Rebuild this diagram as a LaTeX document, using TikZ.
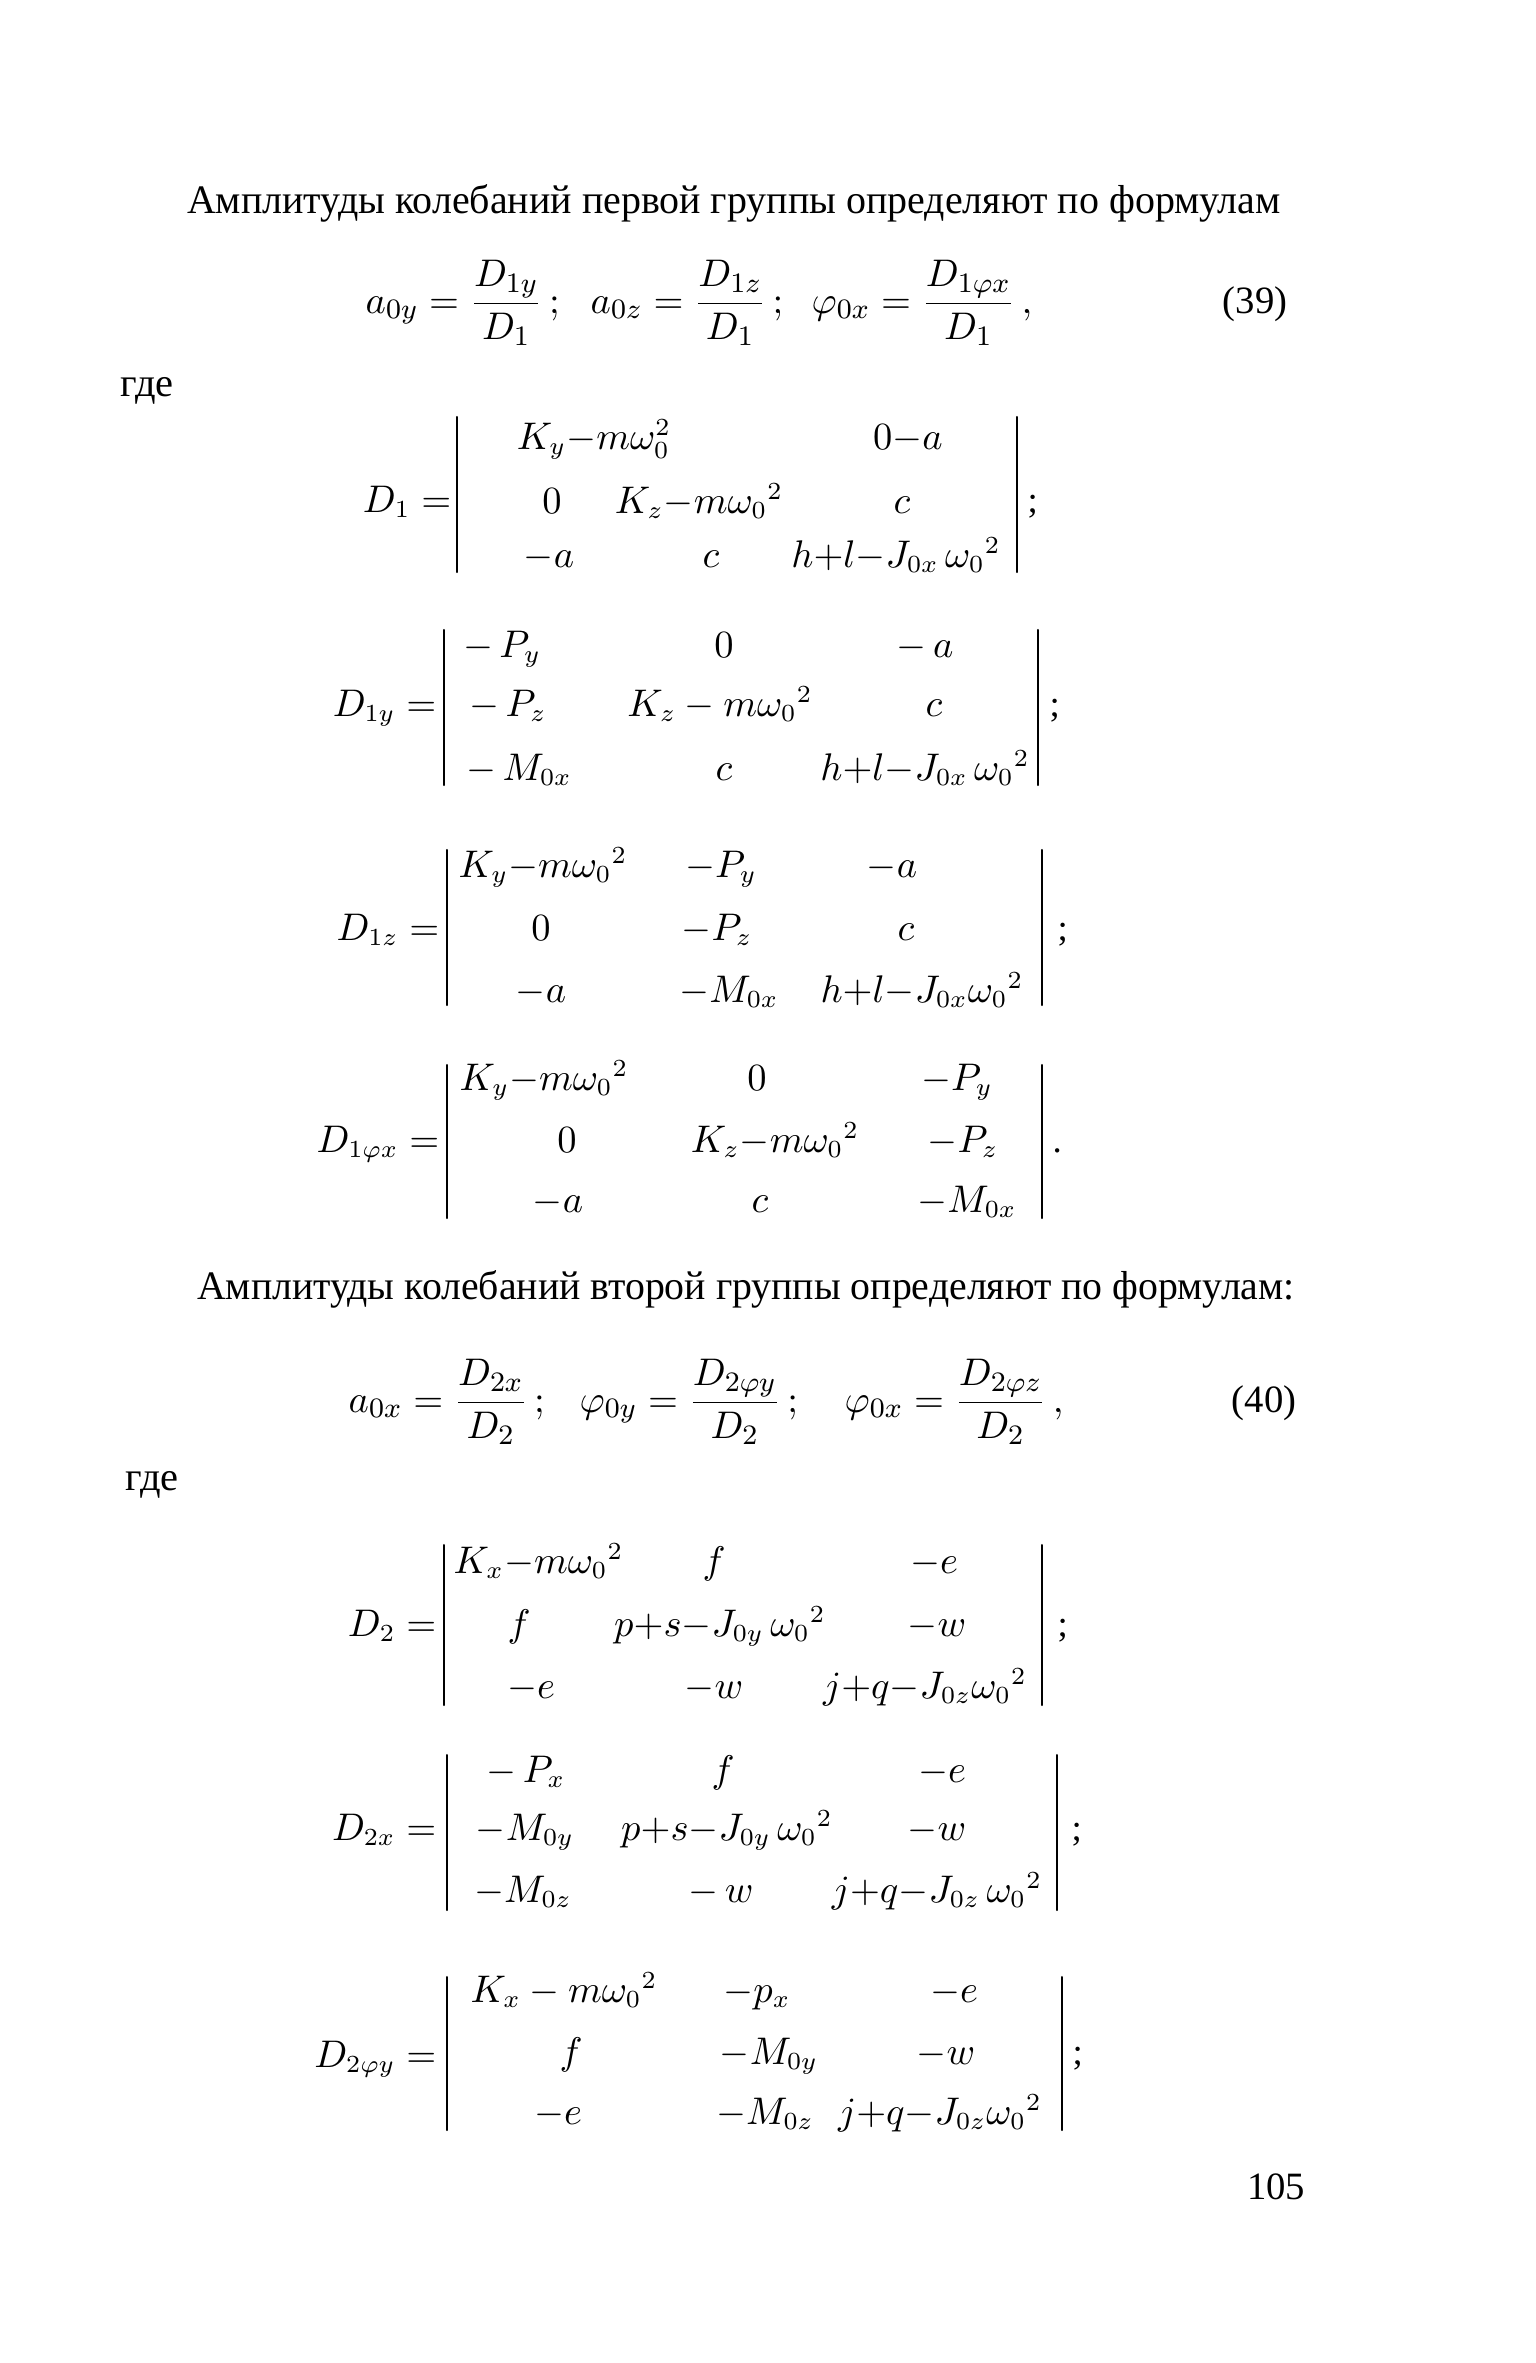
\documentclass[tikz,border=0pt]{standalone}
\usepackage{fontspec}
\setmainfont{Liberation Serif}
\tikzset{
 ent/.style={anchor=base, inner sep=0pt, font=\fontsize{10.5}{12.6}\selectfont},
 entw/.style={anchor=base west, inner sep=0pt, font=\fontsize{10.5}{12.6}\selectfont},
 lbl/.style={anchor=base east, inner sep=0pt, font=\fontsize{10.5}{12.6}\selectfont},
 punct/.style={anchor=base west, inner sep=0pt, font=\fontsize{10.5}{12.6}\selectfont},
 detbar/.style={line width=0.6pt, line cap=round},
 ttl/.style={anchor=base, inner sep=0pt, font=\fontsize{11.5}{14}\selectfont},
 frm/.style={anchor=base west, inner sep=0pt, font=\fontsize{11}{13}\selectfont},
 eqno/.style={anchor=base, inner sep=0pt, font=\fontsize{11}{13}\selectfont},
}
\newcommand\detbars[4]{\draw[detbar] (#1,#3) -- (#1,#4); \draw[detbar] (#2,#3) -- (#2,#4);}
\begin{document}
\begin{tikzpicture}[x=0.01cm,y=-0.01cm]
\fill[white] (0,0) rectangle (1535,2363);
\useasboundingbox (0,0) rectangle (1535,2363);

% ---------- first heading ----------
\node[ttl] (t1) at (734,213) {\resizebox{10.93cm}{\height}{Амплитуды колебаний первой группы определяют по формулам}};

% ---------- formula (39) ----------
\node[frm] (e1) at (365,313) {$a_{0y}=\displaystyle\frac{D_{1y}}{D_1}\,;$};
\node[frm] (e2) at (590,313) {$a_{0z}=\displaystyle\frac{D_{1z}}{D_1}\,;$};
\node[frm] (e3) at (811,313) {$\varphi_{0x}=\displaystyle\frac{D_{1\varphi x}}{D_1}\,,$};
\node[eqno] (n39) at (1255,313) {(39)};

\node[anchor=base west, inner sep=0pt, font=\fontsize{11.5}{14}\selectfont] (g1) at (120,396) {где};

% ---------- D1 ----------
\node[lbl] (d1) at (452,512) {$D_1=$};
\detbars{457}{1017}{417}{572}
\node[ent] (p11) at (594,449) {$K_y{-}m\omega_0^2$};
\node[ent] (p12) at (908,449) {$0{-}a$};
\node[ent] (p21) at (552,513) {$0$};
\node[ent] (p22) at (699,513) {$K_z{-}m{\omega_0}^2$};
\node[ent] (p23) at (902,513) {$c$};
\node[ent] (p31) at (549,567) {${-}a$};
\node[ent] (p32) at (711,567) {$c$};
\node[ent] (p33) at (896,567) {$h{+}l{-}J_{0x}\,{\omega_0}^2$};
\node[punct] (s1) at (1027,512) {;};

% ---------- D1y ----------
\node[lbl] (d1y) at (437,716) {$D_{1y}=$};
\detbars{444}{1038}{630}{785}
\node[ent] (q11) at (502,657) {${-}\,P_y$};
\node[ent] (q12) at (724,657) {$0$};
\node[ent] (q13) at (925,657) {${-}\,a$};
\node[ent] (q21) at (508,716) {${-}\,P_z$};
\node[ent] (q22) at (720,716) {$K_z-m{\omega_0}^2$};
\node[ent] (q23) at (934,716) {$c$};
\node[ent] (q31) at (519,780) {${-}\,M_{0x}$};
\node[ent] (q32) at (724,780) {$c$};
\node[ent] (q33) at (925,780) {$h{+}l{-}J_{0x}\,{\omega_0}^2$};
\node[punct] (s2) at (1049,716) {;};

% ---------- D1z ----------
\node[lbl] (d1z) at (440,940) {$D_{1z}=$};
\detbars{447}{1042}{850}{1005}
\node[ent] (r11) at (543,877) {$K_y{-}m{\omega_0}^2$};
\node[ent] (r12) at (721,877) {${-}P_y$};
\node[ent] (r13) at (892,877) {${-}a$};
\node[ent] (r21) at (541,940) {$0$};
\node[ent] (r22) at (717,940) {${-}P_z$};
\node[ent] (r23) at (906,940) {$c$};
\node[ent] (r31) at (541,1002) {${-}a$};
\node[ent] (r32) at (729,1002) {${-}M_{0x}$};
\node[ent] (r33) at (922,1002) {$h{+}l{-}J_{0x}{\omega_0}^2$};
\node[punct] (s3) at (1057,940) {;};

% ---------- D1phi x ----------
\node[lbl] (d1f) at (440,1152) {$D_{1\varphi x}=$};
\detbars{447}{1042}{1065}{1218}
\node[ent] (u11) at (544,1090) {$K_y{-}m{\omega_0}^2$};
\node[ent] (u12) at (757,1090) {$0$};
\node[ent] (u13) at (957,1090) {${-}P_y$};
\node[ent] (u21) at (567,1152) {$0$};
\node[ent] (u22) at (775,1152) {$K_z{-}m{\omega_0}^2$};
\node[ent] (u23) at (963,1152) {${-}P_z$};
\node[ent] (u31) at (558,1212) {${-}a$};
\node[ent] (u32) at (760,1212) {$c$};
\node[ent] (u33) at (967,1212) {${-}M_{0x}$};
\node[punct] (s4) at (1052,1152) {.};

% ---------- second heading ----------
\node[ttl] (t2) at (746,1299) {\resizebox{10.97cm}{\height}{Амплитуды колебаний второй группы определяют по формулам:}};

% ---------- formula (40) ----------
\node[frm] (e4) at (348,1412) {$a_{0x}=\displaystyle\frac{D_{2x}}{D_2}\,;$};
\node[frm] (e5) at (579,1412) {$\varphi_{0y}=\displaystyle\frac{D_{2\varphi y}}{D_2}\,;$};
\node[frm] (e6) at (844,1412) {$\varphi_{0x}=\displaystyle\frac{D_{2\varphi z}}{D_2}\,,$};
\node[eqno] (n40) at (1264,1412) {(40)};

\node[anchor=base west, inner sep=0pt, font=\fontsize{11.5}{14}\selectfont] (g2) at (125,1490) {где};

% ---------- D2 ----------
\node[lbl] (d2) at (437,1636) {$D_2=$};
\detbars{444}{1042}{1545}{1705}
\node[entw] (v11) at (453,1573) {$K_x{-}m{\omega_0}^2$};
\node[ent] (v12) at (714,1573) {$f$};
\node[ent] (v13) at (934,1573) {${-}e$};
\node[ent] (v21) at (519,1636) {$f$};
\node[ent] (v22) at (720,1636) {$p{+}s{-}J_{0y}\,{\omega_0}^2$};
\node[ent] (v23) at (937,1636) {${-}w$};
\node[ent] (v31) at (531,1698) {${-}e$};
\node[ent] (v32) at (714,1698) {${-}w$};
\node[ent] (v33) at (925,1698) {$j{+}q{-}J_{0z}{\omega_0}^2$};
\node[punct] (s5) at (1057,1636) {;};

% ---------- D2x ----------
\node[lbl] (d2x) at (437,1840) {$D_{2x}=$};
\detbars{447}{1057}{1755}{1910}
\node[ent] (w11) at (526,1782) {${-}\,P_x$};
\node[ent] (w12) at (723,1782) {$f$};
\node[ent] (w13) at (942,1782) {${-}e$};
\node[ent] (w21) at (525,1840) {${-}M_{0y}$};
\node[ent] (w22) at (727,1840) {$p{+}s{-}J_{0y}\,{\omega_0}^2$};
\node[ent] (w23) at (937,1840) {${-}w$};
\node[ent] (w31) at (523,1902) {${-}M_{0z}$};
\node[ent] (w32) at (721,1902) {${-}\,w$};
\node[ent] (w33) at (937,1902) {$j{+}q{-}J_{0z}\,{\omega_0}^2$};
\node[punct] (s6) at (1071,1840) {;};

% ---------- D2phi y ----------
\node[lbl] (d2f) at (437,2067) {$D_{2\varphi y}=$};
\detbars{447}{1062}{1977}{2130}
\node[ent] (z11) at (564,2002) {$K_x-m{\omega_0}^2$};
\node[ent] (z12) at (757,2002) {${-}p_x$};
\node[ent] (z13) at (954,2002) {${-}e$};
\node[ent] (z21) at (571,2064) {$f$};
\node[ent] (z22) at (769,2064) {${-}M_{0y}$};
\node[ent] (z23) at (946,2064) {${-}w$};
\node[ent] (z31) at (558,2124) {${-}e$};
\node[ent] (z32) at (765,2124) {${-}M_{0z}$};
\node[ent] (z33) at (940,2124) {$j{+}q{-}J_{0z}{\omega_0}^2$};
\node[punct] (s7) at (1072,2064) {;};

% ---------- page number ----------
\node[eqno] (pg) at (1276,2199) {105};
\end{tikzpicture}
\end{document}
